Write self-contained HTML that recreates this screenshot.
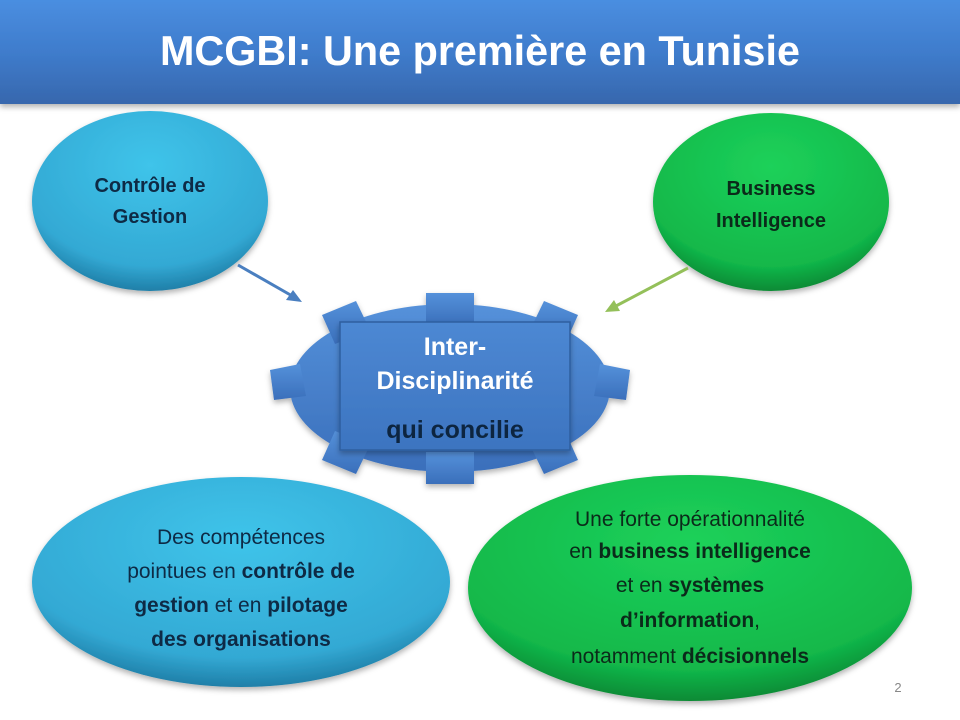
<!DOCTYPE html>
<html><head><meta charset="utf-8"><style>
html,body{margin:0;padding:0;background:#fff}
svg{display:block}
text{font-family:"Liberation Sans",sans-serif}
</style></head><body>
<svg width="960" height="720" viewBox="0 0 960 720" xmlns="http://www.w3.org/2000/svg">
<defs>
<linearGradient id="hdr" x1="0" y1="0" x2="0" y2="1">
<stop offset="0" stop-color="#4a8ee0"/><stop offset="0.5" stop-color="#3f7ccc"/><stop offset="1" stop-color="#3767ad"/></linearGradient>
<radialGradient id="cyan" cx="0.5" cy="0.3" r="0.7"><stop offset="0" stop-color="#3fc4ea"/><stop offset="0.8" stop-color="#33a9d4"/><stop offset="1" stop-color="#1f7fa8"/></radialGradient>
<radialGradient id="grn" cx="0.5" cy="0.3" r="0.7"><stop offset="0" stop-color="#1dd15a"/><stop offset="0.8" stop-color="#12b84a"/><stop offset="1" stop-color="#0a8a35"/></radialGradient>
<linearGradient id="gear" x1="0" y1="0" x2="0" y2="1"><stop offset="0" stop-color="#5591da"/><stop offset="1" stop-color="#3a6fbb"/></linearGradient>
<linearGradient id="box" x1="0" y1="0" x2="0" y2="1"><stop offset="0" stop-color="#4d88d3"/><stop offset="1" stop-color="#3c74c0"/></linearGradient>
<filter id="sh" x="-20%" y="-20%" width="140%" height="140%"><feDropShadow dx="0" dy="3" stdDeviation="3" flood-color="#000" flood-opacity="0.3"/></filter>
</defs>
<rect x="0" y="0" width="960" height="104" fill="url(#hdr)" filter="url(#sh)"/>
<text x="480" y="65" font-size="42" font-weight="bold" fill="#fff" text-anchor="middle" textLength="640" lengthAdjust="spacingAndGlyphs">MCGBI: Une première en Tunisie</text>

<ellipse cx="150" cy="201" rx="118" ry="90" fill="url(#cyan)" filter="url(#sh)"/>
<text x="150" y="192" font-size="20" font-weight="bold" fill="#0e2a45" text-anchor="middle">Contrôle de</text>
<text x="150" y="223" font-size="20" font-weight="bold" fill="#0e2a45" text-anchor="middle">Gestion</text>

<ellipse cx="771" cy="202" rx="118" ry="89" fill="url(#grn)" filter="url(#sh)"/>
<text x="771" y="195" font-size="20" font-weight="bold" fill="#0b2a1a" text-anchor="middle">Business</text>
<text x="771" y="227" font-size="20" font-weight="bold" fill="#0b2a1a" text-anchor="middle">Intelligence</text>

<line x1="238" y1="265" x2="294" y2="297" stroke="#4a7fc0" stroke-width="3"/>
<polygon points="302,302 286,300 293,290" fill="#4a7fc0"/>
<line x1="688" y1="268" x2="614" y2="307" stroke="#94c05a" stroke-width="3"/>
<polygon points="605,312 614,300 620,311" fill="#94c05a"/>

<g fill="url(#gear)" filter="url(#sh)">
<ellipse cx="450" cy="388" rx="160" ry="84"/>
<rect x="426" y="293" width="48" height="32"/>
<rect x="426" y="452" width="48" height="32"/>
<polygon points="322,315 356,301 370,330 335,344"/>
<polygon points="578,315 544,301 530,330 565,344"/>
<polygon points="270,370 300,364 306,396 274,400"/>
<polygon points="630,370 600,364 594,396 626,400"/>
<polygon points="322,460 356,474 370,445 335,431"/>
<polygon points="578,460 544,474 530,445 565,431"/>
</g>
<rect x="340" y="322" width="230" height="128" fill="url(#box)" stroke="#2f5f9f" stroke-width="1.5" filter="url(#sh)"/>
<text x="455" y="355" font-size="25" font-weight="bold" fill="#fff" text-anchor="middle">Inter-</text>
<text x="455" y="389" font-size="25" font-weight="bold" fill="#fff" text-anchor="middle">Disciplinarité</text>
<text x="455" y="438" font-size="25" font-weight="bold" fill="#0d2540" text-anchor="middle">qui concilie</text>

<ellipse cx="241" cy="582" rx="209" ry="105" fill="url(#cyan)" filter="url(#sh)"/>
<g font-size="21" fill="#0e2a45" text-anchor="middle">
<text x="241" y="544">Des compétences</text>
<text x="241" y="578">pointues en <tspan font-weight="bold">contrôle de</tspan></text>
<text x="241" y="612"><tspan font-weight="bold">gestion</tspan> et en <tspan font-weight="bold">pilotage</tspan></text>
<text x="241" y="646" font-weight="bold">des organisations</text>
</g>

<ellipse cx="690" cy="588" rx="222" ry="113" fill="url(#grn)" filter="url(#sh)"/>
<g font-size="21" fill="#0b2a1a" text-anchor="middle">
<text x="690" y="526">Une forte opérationnalité</text>
<text x="690" y="558">en <tspan font-weight="bold">business intelligence</tspan></text>
<text x="690" y="592">et en <tspan font-weight="bold">systèmes</tspan></text>
<text x="690" y="627"><tspan font-weight="bold">d’information</tspan>,</text>
<text x="690" y="663">notamment <tspan font-weight="bold">décisionnels</tspan></text>
</g>
<text x="898" y="692" font-size="13" fill="#888" text-anchor="middle">2</text>
</svg>
</body></html>
